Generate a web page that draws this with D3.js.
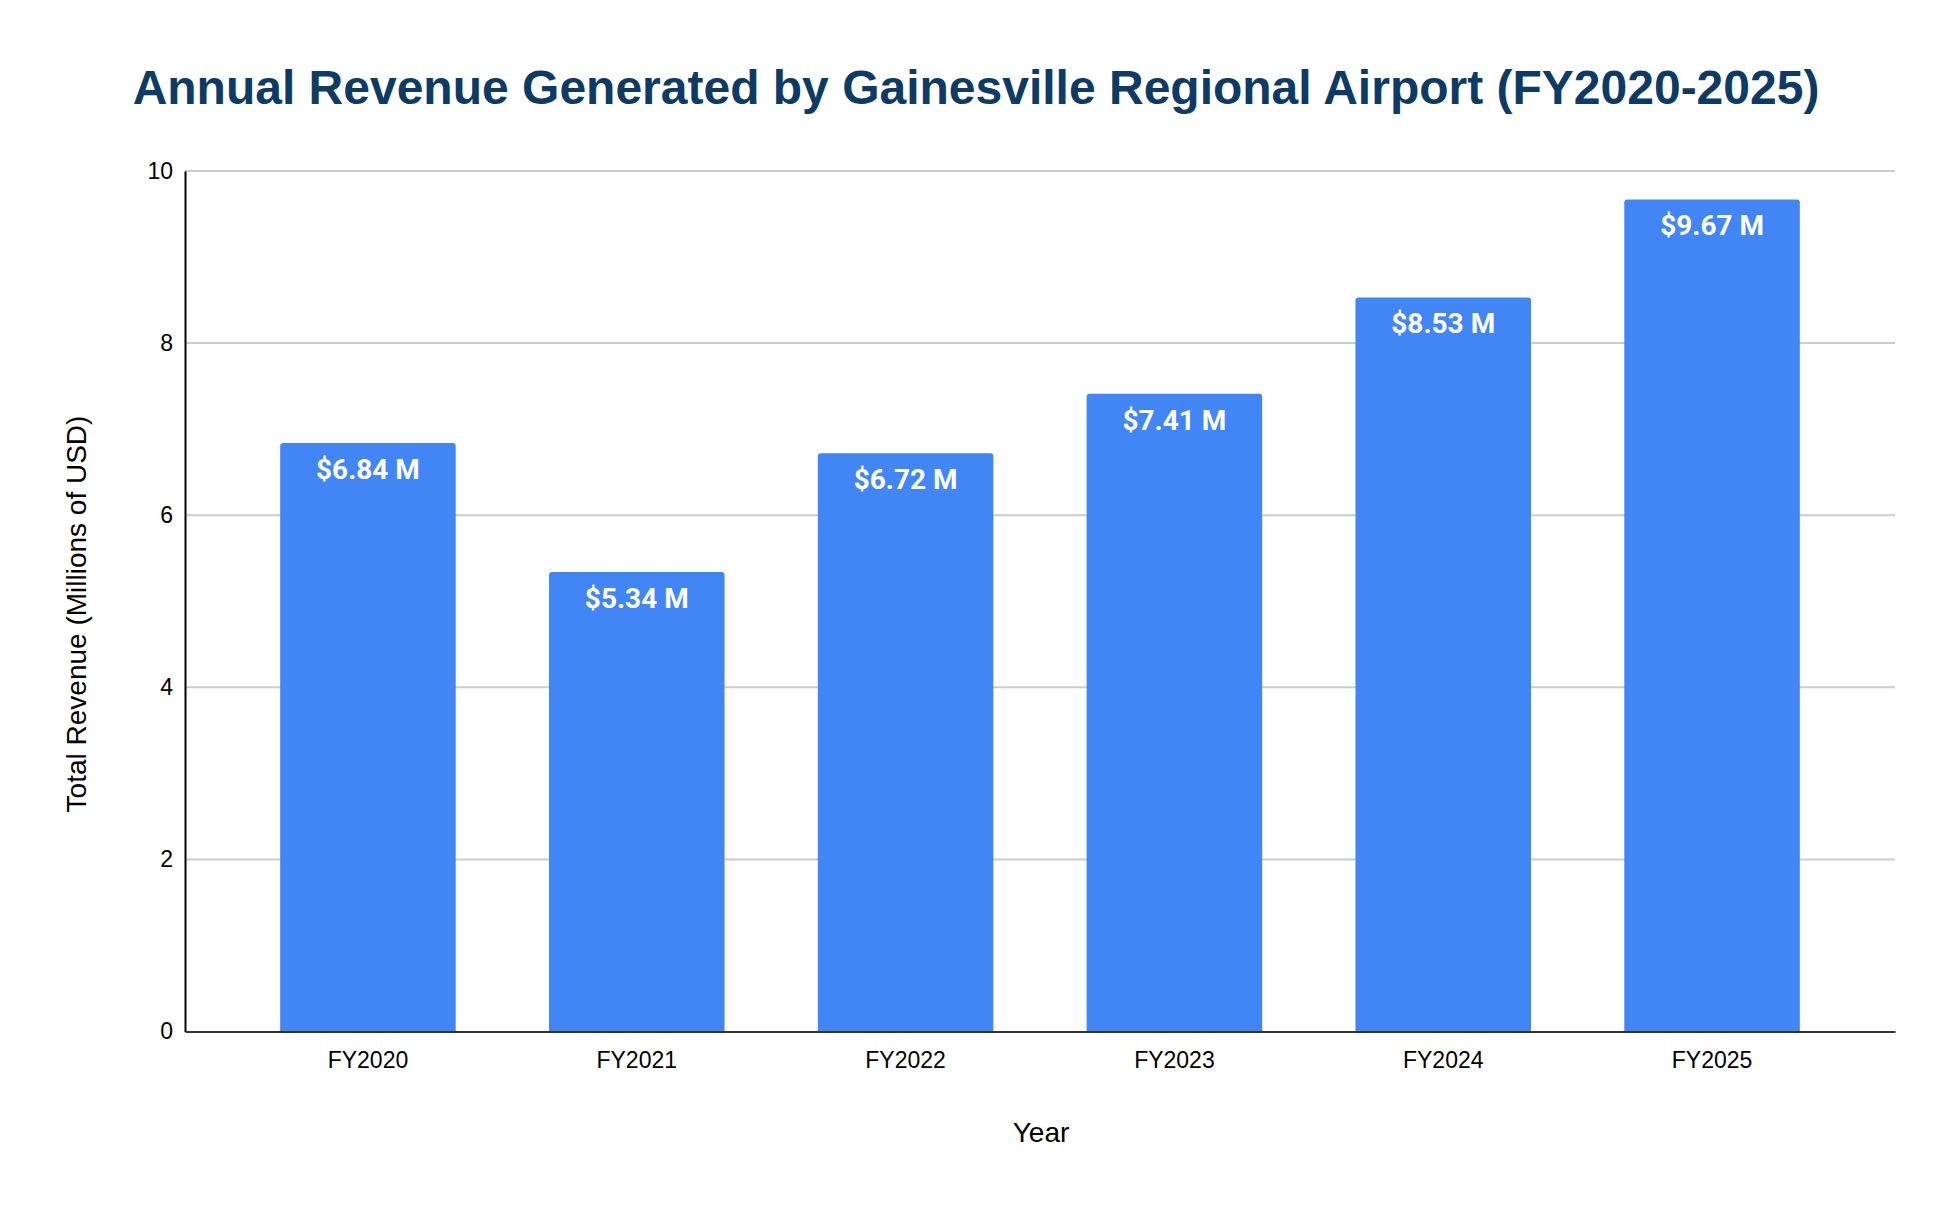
<!DOCTYPE html>
<html>
<head>
<meta charset="utf-8">
<script src="https://cdn.jsdelivr.net/npm/d3@7"></script>
<style>
  body { margin: 0; background: #fff; }
  svg { display: block; }
</style>
</head>
<body>
<div id="chart"></div>
<script>
// Chart data
const years = ["FY2020", "FY2021", "FY2022", "FY2023", "FY2024", "FY2025"];
const revenue = [6.84, 5.34, 6.72, 7.41, 8.53, 9.67];
const yTicks = [0, 2, 4, 6, 8, 10];

const width = 1956, height = 1208;
const margin = { top: 171, right: 61, bottom: 176.5, left: 185 };

const svg = d3.select("#chart").append("svg")
    .attr("width", width)
    .attr("height", height);

const data = years.map((y, i) => ({ year: y, value: revenue[i] }));

// Scales
const x = d3.scaleBand()
    .domain(years)
    .range([margin.left, width - margin.right])
    .paddingInner(0.347)
    .paddingOuter(0.354);

const y = d3.scaleLinear()
    .domain([0, 10])
    .range([height - margin.bottom, margin.top]);

// Gridlines
svg.append("g")
    .selectAll("line")
    .data(yTicks.filter(d => d > 0))
    .enter().append("line")
    .attr("x1", margin.left)
    .attr("x2", width - margin.right)
    .attr("y1", d => y(d))
    .attr("y2", d => y(d))
    .attr("stroke", "#cccccc")
    .attr("stroke-width", 2);

// Bars (rounded top corners)
const r = 3;
svg.append("g")
    .selectAll("path")
    .data(data)
    .enter().append("path")
    .attr("fill", "#4285f4")
    .attr("d", d => {
        const x0 = x(d.year), x1 = x0 + x.bandwidth();
        const y0 = y(d.value), y1 = y(0);
        return `M${x0},${y1}V${y0 + r}Q${x0},${y0} ${x0 + r},${y0}H${x1 - r}Q${x1},${y0} ${x1},${y0 + r}V${y1}Z`;
    });

// Value labels
svg.append("g")
    .selectAll("text")
    .data(data)
    .enter().append("text")
    .attr("x", d => x(d.year) + x.bandwidth() / 2)
    .attr("y", d => y(d.value) + 36)
    .attr("text-anchor", "middle")
    .style("font-family", "Roboto, sans-serif")
    .style("font-weight", "700")
    .style("font-size", "28px")
    .style("fill", "#ffffff")
    .text(d => `$${d.value.toFixed(2)} M`);

// Y axis
const yAxis = svg.append("g")
    .attr("transform", `translate(${margin.left},0)`)
    .call(d3.axisLeft(y).tickValues(yTicks).tickSize(0).tickPadding(12));
yAxis.select(".domain").attr("stroke", "#000").attr("stroke-width", 2);
yAxis.selectAll("text")
    .style("font-family", "'Liberation Sans', Arial, sans-serif")
    .style("font-size", "23px")
    .style("fill", "#000");

// X axis
const xAxis = svg.append("g")
    .attr("transform", `translate(0,${y(0)})`)
    .call(d3.axisBottom(x).tickSize(0).tickPadding(20));
xAxis.select(".domain").attr("stroke", "#333").attr("stroke-width", 2);
xAxis.selectAll("text")
    .style("font-family", "'Liberation Sans', Arial, sans-serif")
    .style("font-size", "23px")
    .style("fill", "#000");

// Title
svg.append("text")
    .attr("x", 976)
    .attr("y", 104)
    .attr("text-anchor", "middle")
    .style("font-family", "'Liberation Sans', Arial, sans-serif")
    .style("font-weight", "700")
    .style("font-size", "48px")
    .style("fill", "#0d3b66")
    .text("Annual Revenue Generated by Gainesville Regional Airport (FY2020-2025)");

// Axis titles
svg.append("text")
    .attr("x", 1041)
    .attr("y", 1142)
    .attr("text-anchor", "middle")
    .style("font-family", "'Liberation Sans', Arial, sans-serif")
    .style("font-size", "28px")
    .style("fill", "#000")
    .text("Year");

svg.append("text")
    .attr("transform", "translate(86,614) rotate(-90)")
    .attr("text-anchor", "middle")
    .style("font-family", "'Liberation Sans', Arial, sans-serif")
    .style("font-size", "28px")
    .style("fill", "#000")
    .text("Total Revenue (Millions of USD)");
</script>
</body>
</html>
